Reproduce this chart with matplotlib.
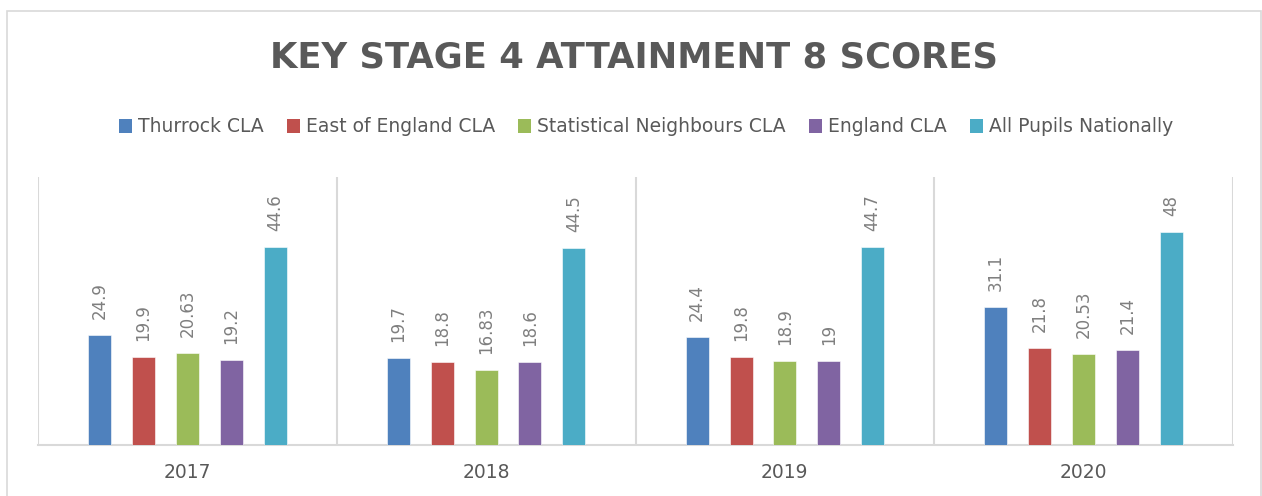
import numpy as np
import matplotlib.pyplot as plt
from matplotlib.patches import Rectangle, Patch

years = ["2017", "2018", "2019", "2020"]
series = ["Thurrock CLA", "East of England CLA", "Statistical Neighbours CLA",
          "England CLA", "All Pupils Nationally"]
thurrock = [24.9, 19.7, 24.4, 31.1]
east_england = [19.9, 18.8, 19.8, 21.8]
stat_neighbours = [20.63, 16.83, 18.9, 20.53]
england = [19.2, 18.6, 19, 21.4]
all_pupils = [44.6, 44.5, 44.7, 48]
labels = [["24.9", "19.7", "24.4", "31.1"],
          ["19.9", "18.8", "19.8", "21.8"],
          ["20.63", "16.83", "18.9", "20.53"],
          ["19.2", "18.6", "19", "21.4"],
          ["44.6", "44.5", "44.7", "48"]]
colors = ["#4f81bd", "#c0504d", "#9bbb59", "#8064a2", "#4bacc6"]

values = [thurrock, east_england, stat_neighbours, england, all_pupils]

fig = plt.figure(figsize=(12.62, 4.96), dpi=100)
W, H = 1262, 496

# outer chart border
fig.patches.append(Rectangle((7 / W, -0.05), 1254 / W, 1.05 - 11 / H,
                             transform=fig.transFigure, fill=False,
                             edgecolor="#d9d9d9", linewidth=1.2))

ax = fig.add_axes([38 / W, (H - 445) / H, (1233 - 38) / W, (445 - 177) / H])

x = np.arange(len(years))
pitch = 0.1467
width = 0.077
for i, (vals, col) in enumerate(zip(values, colors)):
    pos = x + (i - 2) * pitch
    ax.bar(pos, vals, width, color=col, edgecolor="white", linewidth=0.4, zorder=3)
    for p, v, lab in zip(pos, vals, labels[i]):
        ax.annotate(lab, (p, v), xytext=(0, 11.5), textcoords="offset points",
                    rotation=90, ha="center", va="bottom", fontsize=12,
                    color="#7f7f7f")

ax.set_xlim(-0.5, 3.5)
ax.set_ylim(0, 60.4)
for sep in np.arange(-0.5, 4.0, 1.0):
    ax.axvline(sep, color="#d9d9d9", linewidth=1.5, zorder=1)

for s in ["top", "left", "right"]:
    ax.spines[s].set_visible(False)
ax.spines["bottom"].set_color("#d9d9d9")
ax.spines["bottom"].set_linewidth(1.5)
ax.set_yticks([])
ax.set_xticks(x)
ax.set_xticklabels(years, fontsize=13.5, color="#595959")
ax.tick_params(axis="x", length=0, pad=13)

fig.text(634 / W, 1 - 58 / H, "KEY STAGE 4 ATTAINMENT 8 SCORES", ha="center",
         va="center", fontsize=25.5, fontweight="bold", color="#595959")

handles = [Patch(facecolor=c) for c in colors]
fig.legend(handles, series, loc="center", bbox_to_anchor=(646 / W, 1 - 127 / H),
           ncol=5, frameon=False, fontsize=13.5, labelcolor="#595959",
           handlelength=0.7, handleheight=0.7, handletextpad=0.3,
           columnspacing=1.25)

fig.savefig("out.png", dpi=100)
